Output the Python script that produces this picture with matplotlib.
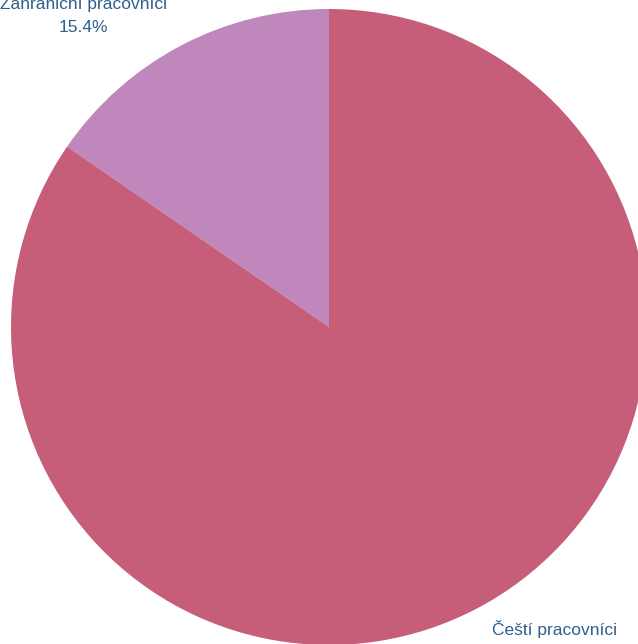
import matplotlib
matplotlib.use('Agg')
import matplotlib.pyplot as plt

# data
labels = ['Zahraniční pracovníci', 'Čeští pracovníci']
shares = [15.4, 84.6]
colors = ['#BF87BC', '#C65E7A']

W, H = 638, 644
cx, cy, r = 329, 327, 318   # pie centre / radius in pixels

fig = plt.figure(figsize=(W / 100, H / 100), dpi=100)
ax = fig.add_axes([0, 0, 1, 1])
ax.pie(shares, colors=colors, startangle=90, counterclock=True,
       wedgeprops=dict(linewidth=0))
ax.set_xlim(-cx / r, (W - cx) / r)
ax.set_ylim(-(H - cy) / r, cy / r)
ax.set_aspect('equal')
ax.axis('off')

# labels sit outside the pie, placed in pixel space
txt = dict(color='#2E5F8F', fontsize=12.5, family='Liberation Sans',
           ha='center', va='center')
label_pos = [(83, 4), (554, 629)]
for (px, py), lab, s in zip(label_pos, labels, shares):
    fig.text(px / W, 1 - py / H, lab, **txt)
    fig.text(px / W, 1 - (py + 24) / H, f'{s}%', **txt)

fig.savefig('out.png', dpi=100, facecolor='white')
